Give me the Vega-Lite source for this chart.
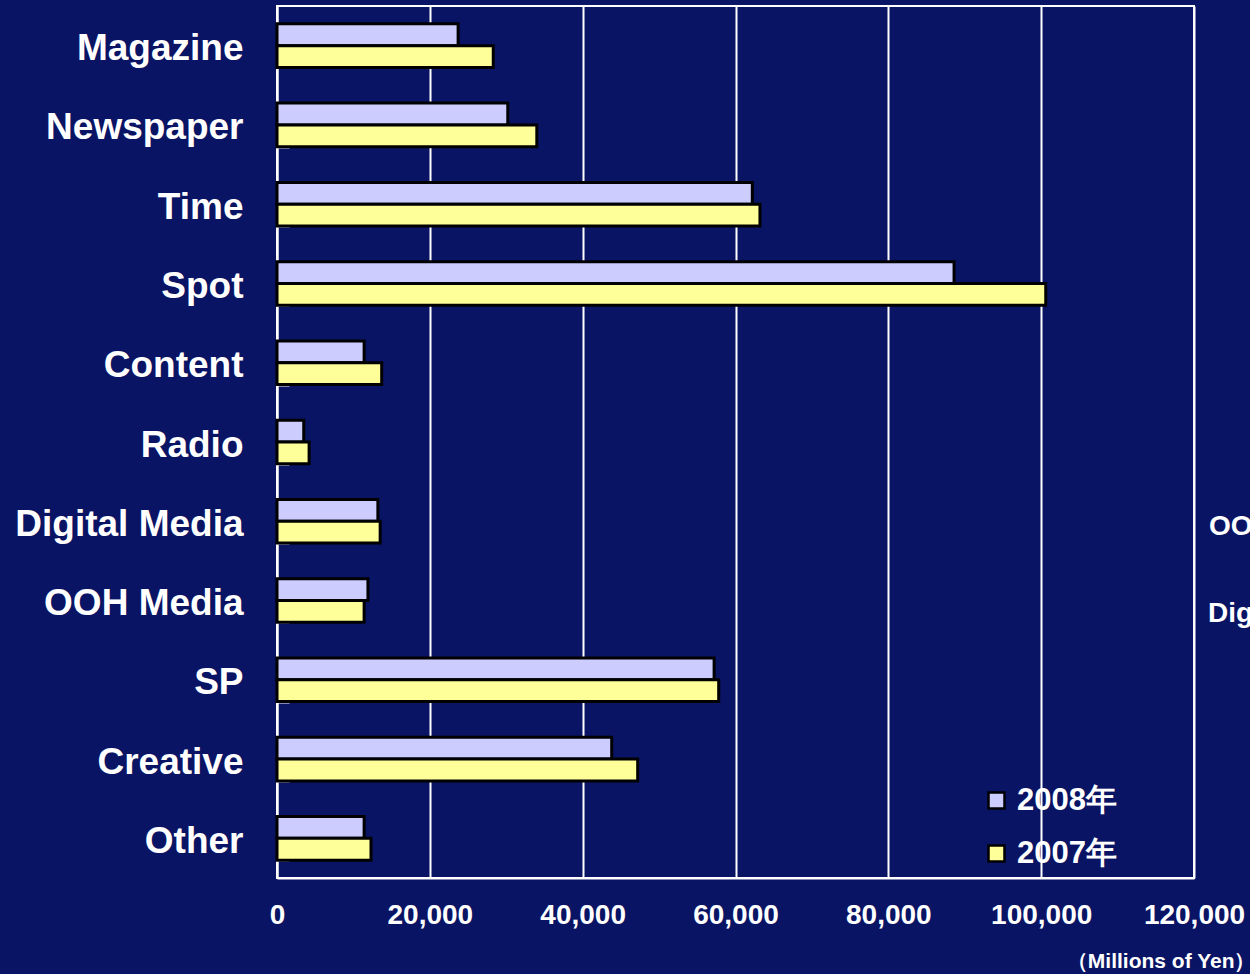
{
  "$schema": "https://vega.github.io/schema/vega-lite/v6.json",
  "width": 917,
  "height": 872,
  "autosize": {"type": "none"},
  "padding": {"left": 277, "top": 6, "right": 56, "bottom": 96},
  "background": "#0A1464",
  "config": {
    "view": {"stroke": "#FFFFFF", "strokeWidth": 2},
    "font": "Liberation Sans"
  },
  "layer": [
    {
      "data": {
        "values": [
          {"category": "Magazine", "year": "2008年", "value": 23700},
          {"category": "Magazine", "year": "2007年", "value": 28300},
          {"category": "Newspaper", "year": "2008年", "value": 30200},
          {"category": "Newspaper", "year": "2007年", "value": 34000},
          {"category": "Time", "year": "2008年", "value": 62200},
          {"category": "Time", "year": "2007年", "value": 63200},
          {"category": "Spot", "year": "2008年", "value": 88600},
          {"category": "Spot", "year": "2007年", "value": 100600},
          {"category": "Content", "year": "2008年", "value": 11400},
          {"category": "Content", "year": "2007年", "value": 13700},
          {"category": "Radio", "year": "2008年", "value": 3500},
          {"category": "Radio", "year": "2007年", "value": 4200},
          {"category": "Digital Media", "year": "2008年", "value": 13200},
          {"category": "Digital Media", "year": "2007年", "value": 13500},
          {"category": "OOH Media", "year": "2008年", "value": 11900},
          {"category": "OOH Media", "year": "2007年", "value": 11400},
          {"category": "SP", "year": "2008年", "value": 57200},
          {"category": "SP", "year": "2007年", "value": 57800},
          {"category": "Creative", "year": "2008年", "value": 43800},
          {"category": "Creative", "year": "2007年", "value": 47200},
          {"category": "Other", "year": "2008年", "value": 11400},
          {"category": "Other", "year": "2007年", "value": 12300}
        ]
      },
      "mark": {"type": "bar", "stroke": "#000000", "strokeWidth": 3},
      "encoding": {
        "y": {
          "field": "category",
          "type": "nominal",
          "sort": null,
          "scale": {
            "domain": ["Magazine", "Newspaper", "Time", "Spot", "Content", "Radio", "Digital Media", "OOH Media", "SP", "Creative", "Other"],
            "paddingInner": 0.45,
            "paddingOuter": 0.225
          },
          "axis": {
            "title": null,
            "domainColor": "#FFFFFF",
            "domainWidth": 2,
            "ticks": true,
            "tickBand": "extent",
            "tickSize": -12,
            "tickWidth": 2,
            "tickColor": "#FFFFFF",
            "labelColor": "#FFFFFF",
            "labelFont": "Liberation Sans",
            "labelFontSize": 37,
            "labelFontWeight": "bold",
            "labelPadding": 46,
            "labelOffset": 3,
            "labelLimit": 0,
            "grid": false
          }
        },
        "yOffset": {
          "field": "year",
          "type": "nominal",
          "sort": ["2008年", "2007年"],
          "scale": {"paddingInner": 0, "paddingOuter": 0}
        },
        "x": {
          "field": "value",
          "type": "quantitative",
          "scale": {"domain": [0, 120000]},
          "axis": {
            "values": [0, 20000, 40000, 60000, 80000, 100000, 120000],
            "format": ",.0f",
            "grid": true,
            "gridColor": "#FFFFFF",
            "gridWidth": 2,
            "gridOpacity": 1,
            "domainColor": "#FFFFFF",
            "domainWidth": 2,
            "ticks": false,
            "labelColor": "#FFFFFF",
            "labelFontSize": 28,
            "labelFontWeight": "bold",
            "labelPadding": 23,
            "labelOverlap": false,
            "labelFlush": false,
            "title": "（Millions of Yen）",
            "titleColor": "#FFFFFF",
            "titleFontSize": 21,
            "titleFontWeight": "bold",
            "titleAnchor": "end",
            "titleAlign": "right",
            "titleBaseline": "alphabetic",
            "titleX": 978,
            "titleY": 89
          }
        },
        "color": {
          "field": "year",
          "type": "nominal",
          "scale": {"domain": ["2008年", "2007年"], "range": ["#CCCCFF", "#FFFF99"]},
          "legend": {
            "title": null,
            "orient": "none",
            "legendX": 704,
            "legendY": 779,
            "padding": 0,
            "labelColor": "#FFFFFF",
            "labelFontSize": 31,
            "labelFontWeight": "bold",
            "labelOffset": 5,
            "symbolType": "square",
            "symbolSize": 256,
            "symbolStrokeColor": "#000000",
            "symbolStrokeWidth": 2.5,
            "symbolOpacity": 1,
            "rowPadding": 21
          }
        }
      }
    },
    {
      "data": {
        "values": [
          {"category": "Digital Media", "value": 120000, "label": "OO"}
        ]
      },
      "mark": {"type": "text", "align": "left", "dx": 15, "dy": 6, "fontSize": 28, "fontWeight": "bold", "color": "#FFFFFF", "clip": false},
      "encoding": {
        "y": {"field": "category", "type": "nominal", "sort": null},
        "x": {"field": "value", "type": "quantitative"},
        "text": {"field": "label"}
      }
    },
    {
      "data": {
        "values": [
          {"category": "OOH Media", "value": 120000, "label": "Dig"}
        ]
      },
      "mark": {"type": "text", "align": "left", "dx": 14, "dy": 13, "fontSize": 28, "fontWeight": "bold", "color": "#FFFFFF", "clip": false},
      "encoding": {
        "y": {"field": "category", "type": "nominal", "sort": null},
        "x": {"field": "value", "type": "quantitative"},
        "text": {"field": "label"}
      }
    }
  ]
}
